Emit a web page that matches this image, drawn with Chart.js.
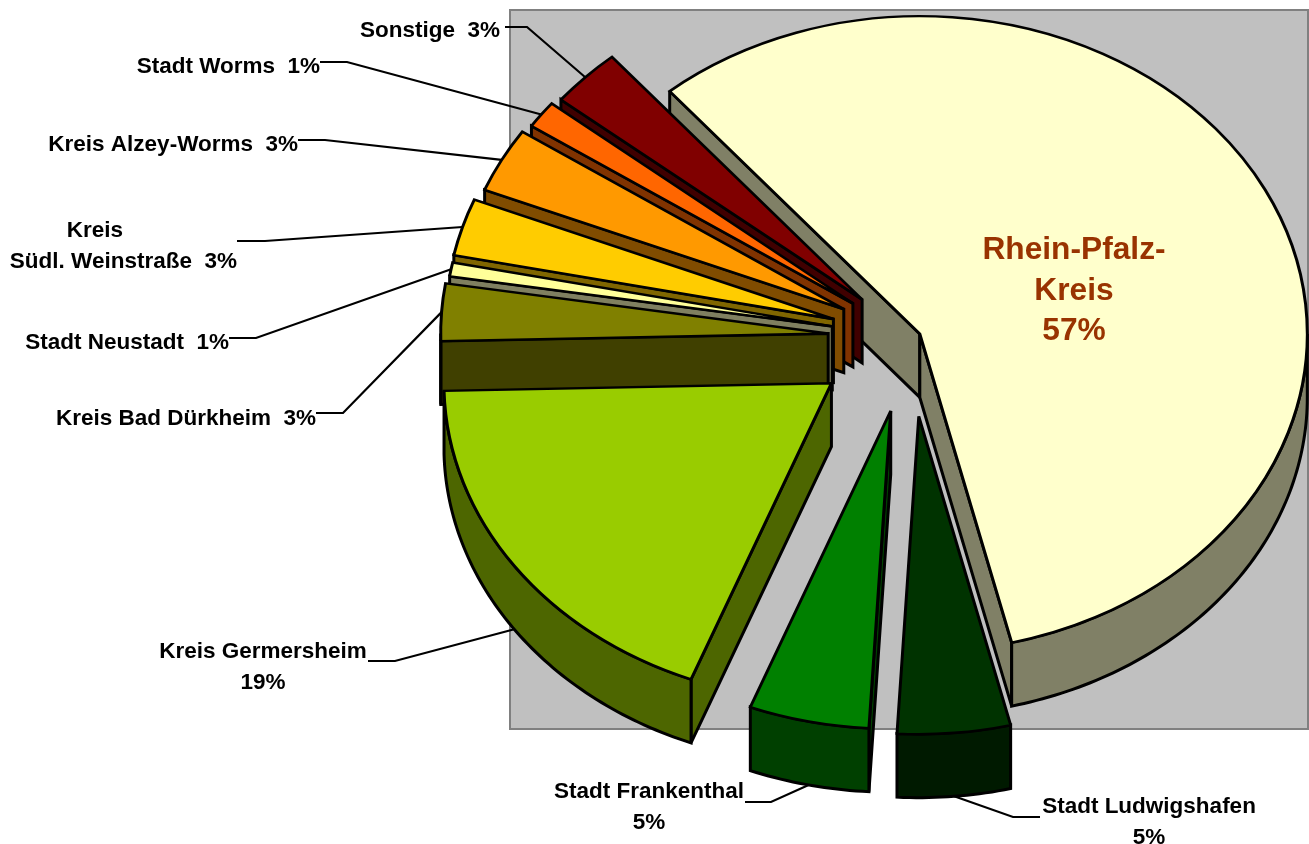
<!DOCTYPE html>
<html>
<head>
<meta charset="utf-8">
<title>Anteile nach Kreisen</title>
<style>
  html, body { margin: 0; padding: 0; background: #fff; }
  #wrap { width: 1309px; height: 844px; position: relative; overflow: hidden; }
</style>
</head>
<body>
<div id="wrap"><canvas id="pie"></canvas></div>
<script src="https://cdn.jsdelivr.net/npm/chart.js@4"></script>
<script>
// Chart data, clockwise from the big slice
const categories = ["Rhein-Pfalz-Kreis", "Stadt Ludwigshafen", "Stadt Frankenthal", "Kreis Germersheim", "Kreis Bad Dürkheim",
  "Stadt Neustadt", "Kreis Südl. Weinstraße", "Kreis Alzey-Worms", "Stadt Worms", "Sonstige"];
const values = [57.3, 4.7, 5.0, 18.7, 2.9, 0.7, 2.9, 3.3, 1.4, 3.0];
const labelLines = [
  ["Rhein-Pfalz-", "Kreis", "57%"],
  ["Stadt Ludwigshafen", "5%"],
  ["Stadt Frankenthal", "5%"],
  ["Kreis Germersheim", "19%"],
  ["Kreis Bad Dürkheim  3%"],
  ["Stadt Neustadt  1%"],
  ["Kreis", "Südl. Weinstraße  3%"],
  ["Kreis Alzey-Worms  3%"],
  ["Stadt Worms  1%"],
  ["Sonstige  3%"]
];

// Colours of the top faces and of the extruded walls
const topColors = ["#FFFFCC", "#003300", "#008000", "#99CC00", "#808000", "#FFFF99", "#FFCC00", "#FF9900", "#FF6600", "#800000"];
const wallColors = ["#808066", "#001A00", "#004000", "#4D6600", "#404000", "#808060", "#806600", "#804C00", "#803300", "#400000"];

// How far each slice is pulled out of the pie, in px
const explode = [11, 96, 91, 96, 82, 79, 80, 75, 71, 67];

const squash = 0.82; // pie is seen at an angle
const depth = 63.5;
const lineW = 3;

// Where the text sits: x, first baseline, alignment, elbow of the leader line (leader goes to the slice rim)
const labelPlaces = [
  { x: 1074, y: 259, align: "center" },
  { x: 1149, y: 813, align: "center", from: [1040, 817], elbow: [1013, 817] },
  { x: 649, y: 798, align: "center", from: [745, 802], elbow: [771, 802] },
  { x: 263, y: 658, align: "center", from: [368, 661], elbow: [395, 661] },
  { x: 316, y: 425, align: "right", from: [316, 413], elbow: [343, 413] },
  { x: 229, y: 349, align: "right", from: [229, 338], elbow: [256, 338] },
  { x: 237, y: 237, align: "right", from: [237, 241], elbow: [265, 241] },
  { x: 298, y: 151, align: "right", from: [298, 140], elbow: [325, 140] },
  { x: 320, y: 73, align: "right", from: [320, 62], elbow: [347, 62] },
  { x: 500, y: 37, align: "right", from: [505, 27], elbow: [527, 27] }
];

function sliceGeometry(arc, i) {
  const mid = (arc.startAngle + arc.endAngle) / 2;
  const sx = arc.x + Math.cos(mid) * explode[i];
  const sy = arc.y + Math.sin(mid) * explode[i] * squash;
  return {
    mid, sx, sy,
    at: (t, drop = 0) => [sx + arc.outerRadius * Math.cos(t), sy + arc.outerRadius * squash * Math.sin(t) + drop]
  };
}

function fillStroke(ctx, color) {
  ctx.fillStyle = color;
  ctx.strokeStyle = "#000";
  ctx.lineWidth = lineW;
  ctx.lineJoin = "miter";
  ctx.fill();
  ctx.stroke();
}

function drawWalls(ctx, arc, i) {
  const g = sliceGeometry(arc, i);
  const a = arc.startAngle, b = arc.endAngle;
  const color = wallColors[i];

  // Cut faces, only the ones turned towards the viewer
  const cutFace = t => {
    const p = g.at(t);
    ctx.beginPath();
    ctx.moveTo(g.sx, g.sy);
    ctx.lineTo(p[0], p[1]);
    ctx.lineTo(p[0], p[1] + depth);
    ctx.lineTo(g.sx, g.sy + depth);
    ctx.closePath();
    fillStroke(ctx, color);
  };
  if (Math.cos(a) < 0) cutFace(a);
  if (Math.cos(b) > 0) cutFace(b);

  // Outer wall, the part on the lower half of the ellipse
  const TAU = Math.PI * 2;
  for (const shift of [0, -TAU, TAU]) {
    const from = Math.max(a + shift, 0);
    const to = Math.min(b + shift, Math.PI);
    if (to <= from) continue;
    const steps = Math.ceil((to - from) * 60);
    ctx.beginPath();
    for (let s = 0; s <= steps; s++) {
      const p = g.at(from + (to - from) * s / steps);
      s === 0 ? ctx.moveTo(p[0], p[1]) : ctx.lineTo(p[0], p[1]);
    }
    for (let s = steps; s >= 0; s--) {
      const p = g.at(from + (to - from) * s / steps, depth);
      ctx.lineTo(p[0], p[1]);
    }
    ctx.closePath();
    fillStroke(ctx, color);
  }
}

const pie3d = {
  id: "pie3d",
  beforeDraw(chart) {
    const ctx = chart.ctx;
    ctx.save();
    ctx.fillStyle = "#C0C0C0";
    ctx.strokeStyle = "#808080";
    ctx.lineWidth = 2;
    ctx.fillRect(510, 10, 798, 719);
    ctx.strokeRect(510, 10, 798, 719);
    ctx.restore();
  },
  // Walls first, back to front, then the library's arcs squashed onto the same ellipse
  beforeDatasetDraw(chart, args) {
    const ctx = chart.ctx;
    const arcs = args.meta.data;
    const order = [0, 9, 8, 7, 6, 5, 4, 3, 2, 1];
    ctx.save();
    ctx.miterLimit = 2.5; // no spikes on the narrow slice corners
    order.forEach(i => drawWalls(ctx, arcs[i], i));
    order.forEach(i => {
      const arc = arcs[i];
      const g = sliceGeometry(arc, i);
      ctx.save();
      ctx.translate(g.sx - arc.x, g.sy - arc.y * squash);
      ctx.scale(1, squash);
      arc.draw(ctx);
      ctx.restore();
    });
    ctx.restore();
    return false;
  },
  afterDraw(chart) {
    const ctx = chart.ctx;
    const arcs = chart.getDatasetMeta(0).data;
    ctx.save();
    labelPlaces.forEach((place, i) => {
      if (place.from) {
        const g = sliceGeometry(arcs[i], i);
        const rim = g.at(g.mid, Math.sin(g.mid) > 0 ? depth : 0);
        ctx.beginPath();
        ctx.moveTo(place.from[0], place.from[1]);
        ctx.lineTo(place.elbow[0], place.elbow[1]);
        ctx.lineTo(rim[0], rim[1]);
        ctx.strokeStyle = "#000";
        ctx.lineWidth = 2.2;
        ctx.stroke();
      }
      const big = i === 0;
      ctx.font = big ? "bold 31.7px 'Liberation Sans'" : "bold 22.5px 'Liberation Sans'";
      ctx.fillStyle = big ? "#993300" : "#000";
      ctx.textAlign = place.align;
      ctx.textBaseline = "alphabetic";
      labelLines[i].forEach((line, n) => {
        let x = place.x;
        if (i === 6 && n === 0) x = 123; // "Kreis" is centred over the second line
        ctx.fillText(line, x, place.y + n * (big ? 40.5 : 30.5));
      });
    });
    ctx.restore();
  }
};

const canvas = document.getElementById("pie");
canvas.width = 1309;
canvas.height = 844;

new Chart(canvas.getContext("2d"), {
  type: "pie",
  data: {
    labels: categories,
    datasets: [{
      data: values,
      backgroundColor: topColors,
      borderColor: "#000",
      borderWidth: lineW,
      borderJoinStyle: "miter",
      clip: false
    }]
  },
  options: {
    responsive: false,
    animation: false,
    rotation: 319.8,
    radius: 387.5,
    layout: { padding: { left: 511, bottom: 168 } }, // centre of the pie at 910, 338
    events: [],
    plugins: { legend: { display: false }, tooltip: { enabled: false } }
  },
  plugins: [pie3d]
});
</script>
</body>
</html>
